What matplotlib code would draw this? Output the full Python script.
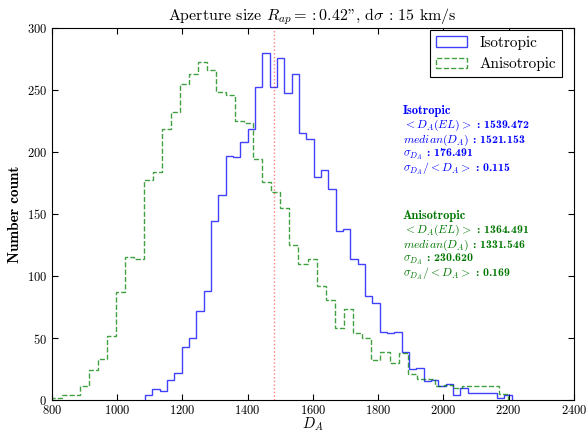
import numpy as np
import matplotlib
matplotlib.use('Agg')
import matplotlib.pyplot as plt

# histogram counts (50 bins each)
iso_counts = [4, 9, 7, 16, 22, 43, 50, 72, 88, 144,
              165, 197, 196, 208, 218, 252, 280, 252, 276, 247,
              263, 215, 210, 180, 185, 170, 136, 138, 114, 110,
              84, 78, 55, 54, 55, 39, 25, 26, 15, 16,
              11, 13, 4, 10, 6, 6, 6, 6, 2, 4]
aniso_counts = [2, 4, 4, 11, 24, 33, 52, 87, 115, 114,
                177, 184, 218, 232, 255, 263, 272, 266, 248, 246,
                225, 223, 194, 176, 168, 155, 125, 110, 114, 92,
                81, 58, 73, 54, 50, 32, 39, 30, 38, 21,
                17, 17, 11, 12, 10, 11, 11, 11, 11, 5]
iso_range = (1086.0, 2209.0)
aniso_range = (802.0, 2198.0)
d_true = 1480.0

iso_stats = ['1539.472', '1521.153', '176.491', '0.115']
aniso_stats = ['1364.491', '1331.546', '230.620', '0.169']
stat_labels = [r'$<D_A(EL)>$ : ', r'$median(D_A)$ : ',
               r'$\sigma_{D_A}$ : ', r'$\sigma_{D_A}/<D_A>$ : ']

plt.rcParams['font.family'] = 'cmr10'
plt.rcParams['mathtext.fontset'] = 'cm'
plt.rcParams['axes.unicode_minus'] = False
plt.rcParams['axes.formatter.use_mathtext'] = True

fig = plt.figure(figsize=(5.88, 4.33), dpi=100)
ax = fig.add_axes([0.088, 0.076, 0.888, 0.86])

iso_edges = np.linspace(iso_range[0], iso_range[1], len(iso_counts) + 1)
aniso_edges = np.linspace(aniso_range[0], aniso_range[1], len(aniso_counts) + 1)

ax.hist(0.5 * (iso_edges[:-1] + iso_edges[1:]), bins=iso_edges, weights=iso_counts,
        histtype='step', color='blue', alpha=0.75, lw=1.0, label='Isotropic')
ax.hist(0.5 * (aniso_edges[:-1] + aniso_edges[1:]), bins=aniso_edges, weights=aniso_counts,
        histtype='step', color='green', alpha=0.75, lw=1.0, ls='--', label='Anisotropic')
ax.axvline(d_true, color='red', ls=':', alpha=0.5, lw=1.0)

ax.set_xlim(800, 2400)
ax.set_ylim(0, 300)
ax.set_xticks(np.arange(800, 2401, 200))
ax.set_yticks(np.arange(0, 301, 50))
ax.tick_params(direction='in', top=True, right=True, labelsize=9, length=4, pad=2.5)
ax.tick_params(axis='y', pad=3.5)
ax.set_xlabel(r'$D_A$', fontsize=10.5, labelpad=-1)
ax.set_ylabel('Number count', fontsize=11, fontfamily='cmb10', labelpad=3)
ax.set_title(r'Aperture size $R_{ap} =: 0.42$", d$\sigma$ : 15 km/s', fontsize=11.5, pad=5)

leg = ax.legend(loc='upper right', bbox_to_anchor=(0.977, 0.995), borderaxespad=0,
                fontsize=11, fancybox=False, framealpha=1, edgecolor='black',
                handlelength=2.0)
leg.get_frame().set_linewidth(0.8)

# annotation blocks
def stat_block(y0, name, vals, color):
    ax.text(0.672, y0, name, transform=ax.transAxes, color=color,
            fontsize=9, fontfamily='cmb10', va='center')
    for i, (lab, v) in enumerate(zip(stat_labels, vals)):
        ax.text(0.672, y0 - 0.039 * (i + 1), lab + v, transform=ax.transAxes,
                color=color, fontsize=8.5, fontfamily='cmb10', va='center')

stat_block(0.776, 'Isotropic', iso_stats, '#0000ff')
stat_block(0.494, 'Anisotropic', aniso_stats, '#007700')

fig.savefig('out.png', dpi=100)
